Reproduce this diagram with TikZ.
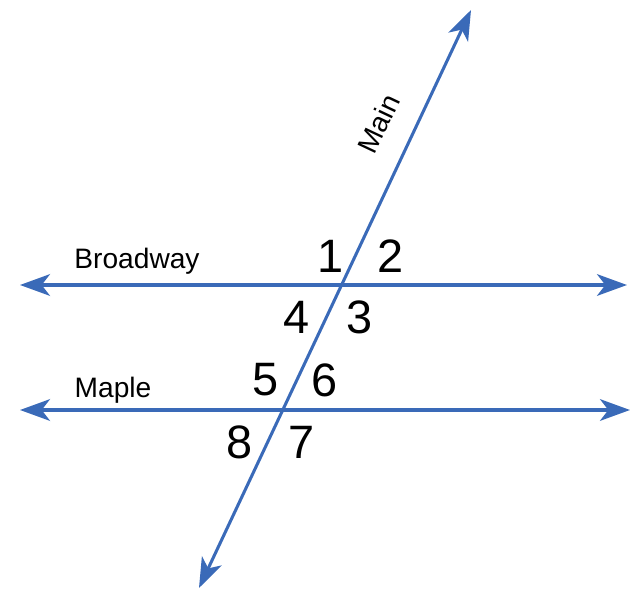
\documentclass[tikz,border=0pt]{standalone}
\usepackage{fontspec}
\setmainfont{Liberation Sans}
\usetikzlibrary{arrows.meta}
\definecolor{roadblue}{RGB}{58,106,184}
\tikzset{
  street/.style    = {draw=roadblue, line width=2.6pt,
                      {Stealth[length=9mm, width=6.5mm, inset=2.5mm]}-{Stealth[length=9mm, width=6.5mm, inset=2.5mm]}},
  streetlbl/.style = {font=\fontsize{24}{28}\selectfont, inner sep=0pt, anchor=base},
  anglelbl/.style  = {font=\fontsize{40}{44}\selectfont, inner sep=0pt},
}

\begin{document}
\begin{tikzpicture}[x=0.03cm, y=-0.03cm]
  \useasboundingbox (0,0) rectangle (630,590);

  % street ends
  \coordinate (bwW)   at ( 20, 285);
  \coordinate (bwE)   at (627, 285);
  \coordinate (mpW)   at ( 20, 410);
  \coordinate (mpE)   at (630, 410);
  \coordinate (mainN) at (471,  10);
  \coordinate (mainS) at (199, 588);

  \draw[street] (bwW)   -- (bwE);
  \draw[street] (mpW)   -- (mpE);
  \draw[street] (mainS) -- (mainN);

  \node[streetlbl] (bwlbl)   at (137, 268) {Broadway};
  \node[streetlbl] (mplbl)   at (113, 397) {Maple};
  \node[streetlbl, rotate=64.7] (mainlbl) at (388, 128) {Main};

  % angles at Broadway
  \node[anglelbl] (a1) at (331, 256) {1};
  \node[anglelbl] (a2) at (391, 256) {2};
  \node[anglelbl] (a3) at (360, 317) {3};
  \node[anglelbl] (a4) at (297, 317) {4};
  % angles at Maple
  \node[anglelbl] (a5) at (266, 380) {5};
  \node[anglelbl] (a6) at (325, 380) {6};
  \node[anglelbl] (a7) at (302, 442) {7};
  \node[anglelbl] (a8) at (240, 442) {8};
\end{tikzpicture}
\end{document}
